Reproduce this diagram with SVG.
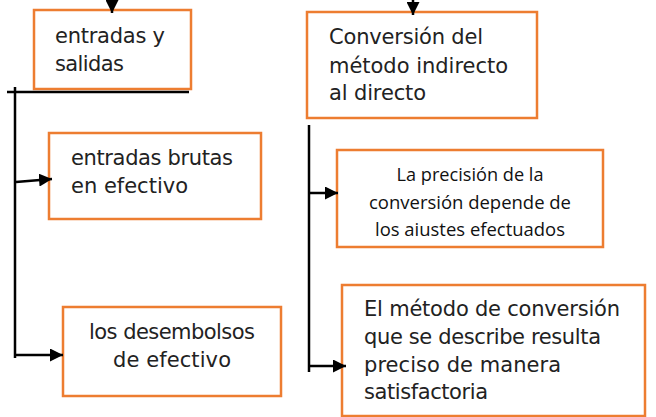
<svg xmlns="http://www.w3.org/2000/svg" width="656" height="417" viewBox="0 0 656 417">
<defs>
<marker id="ah" viewBox="0 0 12 12" refX="12" refY="6" markerWidth="13" markerHeight="13" markerUnits="userSpaceOnUse" orient="auto">
<path d="M0,0 L12,6 L0,12 z" fill="#000"/>
</marker>
<style>
.box{fill:#fff;stroke:#ED7D31;stroke-width:2.5}
.t{font-family:"DejaVu Sans","Liberation Sans",sans-serif;font-size:21px;fill:#222}
.c{font-family:"Open Sans","Liberation Sans",sans-serif;font-size:18.5px;fill:#111;text-anchor:middle}
.ln{stroke:#000;stroke-width:2.5;fill:none}
.ar{stroke:#000;stroke-width:2.5;fill:none;marker-end:url(#ah)}
</style>
</defs>
<rect width="656" height="417" fill="#fff"/>
<g id="n1"><rect class="box" x="34" y="10" width="157" height="79"/>
<text class="t" x="55" y="43" textLength="110">entradas y</text>
<text class="t" x="55" y="71" textLength="69">salidas</text></g>
<g id="n2"><rect class="box" x="49" y="133" width="212" height="86"/>
<text class="t" x="71" y="165" textLength="162">entradas brutas</text>
<text class="t" x="71" y="193" textLength="117">en efectivo</text></g>
<g id="n3"><rect class="box" x="63" y="307" width="218" height="89"/>
<text class="t" x="172" y="339" text-anchor="middle" textLength="166">los desembolsos</text>
<text class="t" x="172" y="367" text-anchor="middle" textLength="118">de efectivo</text></g>
<g id="n4"><rect class="box" x="307" y="12" width="230" height="106"/>
<text class="t" x="329" y="44" textLength="154">Conversión del</text>
<text class="t" x="329" y="73" textLength="179">método indirecto</text>
<text class="t" x="329" y="100" textLength="97">al directo</text></g>
<g id="n5"><rect class="box" x="337" y="150" width="266" height="97"/>
<text class="c" x="470" y="181" textLength="147" lengthAdjust="spacingAndGlyphs">La precisión de la</text>
<text class="c" x="470" y="209" textLength="202" lengthAdjust="spacingAndGlyphs">conversión depende de</text>
<text class="c" x="470" y="236" textLength="190" lengthAdjust="spacingAndGlyphs">los aiustes efectuados</text></g>
<g id="n6"><rect class="box" x="342" y="285" width="303" height="131"/>
<text class="t" x="364" y="316" textLength="256">El método de conversión</text>
<text class="t" x="364" y="344" textLength="237">que se describe resulta</text>
<text class="t" x="364" y="372" textLength="197">preciso de manera</text>
<text class="t" x="364" y="399" textLength="124">satisfactoria</text></g>
<g id="connectors">
<line class="ar" x1="112" y1="0" x2="112" y2="13"/>
<line class="ar" x1="413" y1="0" x2="413" y2="15"/>
<line class="ln" x1="7" y1="92" x2="189" y2="92"/>
<line class="ln" x1="15" y1="87" x2="15" y2="358"/>
<line class="ar" x1="16" y1="182" x2="52" y2="179"/>
<line class="ar" x1="16" y1="355" x2="63" y2="355"/>
<line class="ln" x1="309" y1="125" x2="309" y2="372"/>
<line class="ar" x1="310" y1="193" x2="338" y2="193"/>
<line class="ar" x1="310" y1="366" x2="346" y2="366"/>
</g>
</svg>
